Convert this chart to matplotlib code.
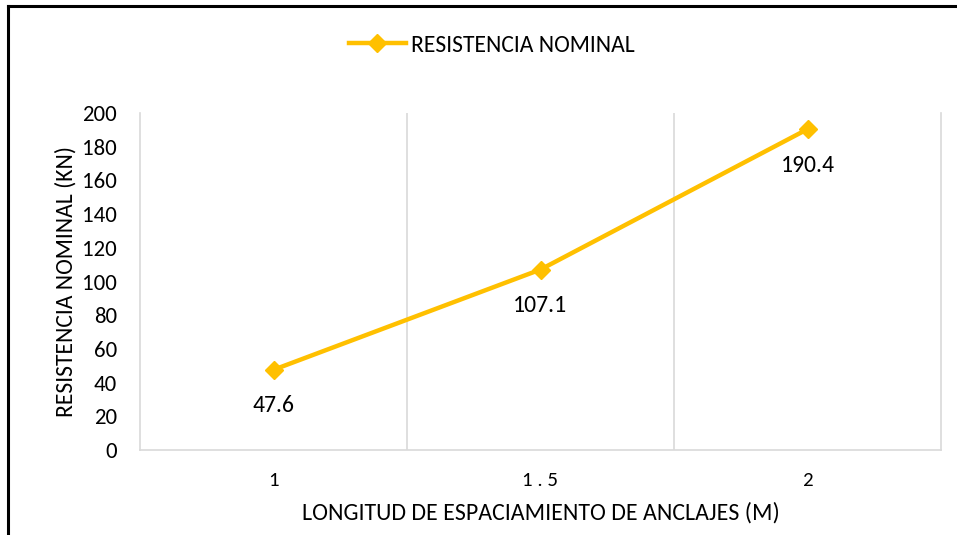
import matplotlib
matplotlib.use("Agg")
import matplotlib.pyplot as plt
from matplotlib.lines import Line2D
from matplotlib import font_manager

# Data
categories = ["1", "1 . 5", "2"]
resistencia = [47.6, 107.1, 190.4]
y_ticks = [0, 20, 40, 60, 80, 100, 120, 140, 160, 180, 200]

avail = {f.name for f in font_manager.fontManager.ttflist}
body = "Carlito" if "Carlito" in avail else "Liberation Sans"

gold = "#FFC000"
grid_c = "#D9D9D9"

fig = plt.figure(figsize=(9.57, 5.35), dpi=100)
ax = fig.add_axes([140 / 957, 1 - 450 / 535, 801 / 957, 337 / 535])

x = list(range(len(categories)))
line, = ax.plot(x, resistencia, color=gold, lw=3.2, marker="D", ms=9,
                mfc=gold, mec=gold, label="RESISTENCIA NOMINAL")

for xi, v in zip(x, resistencia):
    ax.annotate(f"{v}", (xi, v), xytext=(0, -26), textcoords="offset points",
                ha="center", va="center", fontsize=17, family=body, color="#000000")

ax.set_xlim(-0.5, len(categories) - 0.5)
ax.set_ylim(0, 200)
ax.set_yticks(y_ticks)
ax.set_yticklabels([str(t) for t in y_ticks], family=body, fontsize=16.5)
ax.set_xticks(x)
ax.set_xticklabels(categories, family=body, fontsize=15)

for b in [0.5, 1.5]:
    ax.axvline(b, color=grid_c, lw=1.2, zorder=0)

for s in ["left", "right", "bottom"]:
    ax.spines[s].set_color(grid_c)
    ax.spines[s].set_linewidth(1.2)
ax.spines["top"].set_visible(False)
ax.tick_params(axis="both", length=0)
ax.tick_params(axis="x", pad=16)
ax.tick_params(axis="y", pad=16.5)

ax.set_xlabel("LONGITUD DE ESPACIAMIENTO DE ANCLAJES (M)", family=body,
              fontsize=17.2, labelpad=9)
ax.set_ylabel("RESISTENCIA NOMINAL (KN)", family=body, fontsize=17, labelpad=4)

leg = fig.legend(handles=[line], loc="center", bbox_to_anchor=(492 / 957, 1 - 45 / 535),
                 frameon=False, prop={"family": body, "size": 17},
                 handlelength=2.4, handletextpad=0.25)

# Outer frame (left and top edges)
fig.add_artist(Line2D([8 / 957, 8 / 957], [0, 1 - 6 / 535], color="black", lw=2.2,
                      transform=fig.transFigure))
fig.add_artist(Line2D([8 / 957, 1], [1 - 6 / 535, 1 - 6 / 535], color="black", lw=2.2,
                      transform=fig.transFigure))

fig.savefig("out.png", dpi=100)
